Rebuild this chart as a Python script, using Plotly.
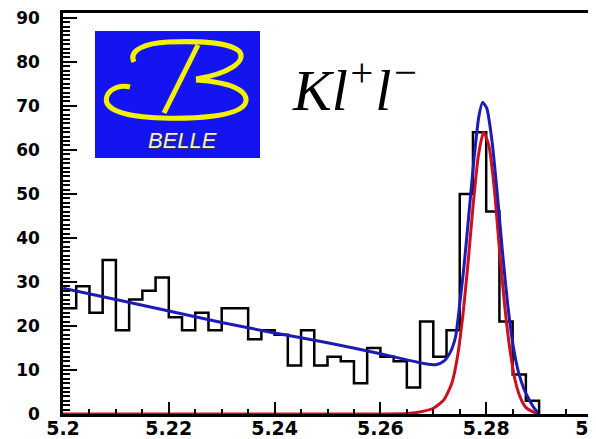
import numpy as np
import plotly.graph_objects as go

# ---------------- data ----------------
hist_start = 5.2
hist_bin_width = 0.0025
counts = [24, 29, 23, 35, 19, 26, 28, 31, 22, 19, 23, 19, 24, 24, 17, 19, 18, 11,
          19, 11, 13, 12, 7, 15, 13, 12, 6, 21, 13, 19, 50, 64, 46, 21, 9, 3]

# total fit (blue)
fit_x = [5.200, 5.210, 5.220, 5.230, 5.240, 5.250, 5.260, 5.265, 5.2685, 5.2705,
         5.2720, 5.2732, 5.2742, 5.2750, 5.2758, 5.2767, 5.2777, 5.2786, 5.2793,
         5.2801, 5.2811, 5.2821, 5.2831, 5.2841, 5.2851, 5.2861, 5.2871, 5.2881,
         5.2891, 5.2900]
fit_y = [28.6, 26.0, 23.4, 20.8, 18.4, 16.2, 13.7, 12.3, 11.4, 11.2,
         12.0, 14.0, 17.5, 25.0, 33.5, 45.0, 58.0, 67.5, 70.8,
         69.5, 62.0, 50.0, 36.5, 24.5, 15.5, 9.5, 5.8, 3.3,
         1.3, 0.0]

# signal component (red)
sig_x = [5.200, 5.260, 5.265, 5.268, 5.270, 5.272, 5.2735, 5.2745, 5.2755, 5.2765,
         5.2775, 5.2785, 5.2795, 5.2805, 5.2815, 5.2825, 5.2835, 5.2845, 5.2855,
         5.2865, 5.2875, 5.2890, 5.2900]
sig_y = [0.0, 0.0, 0.1, 0.6, 1.3, 3.2, 7.0, 12.5, 21.5, 33.5,
         47.0, 58.5, 64.0, 61.0, 51.5, 37.5, 24.5, 14.5, 7.5,
         3.6, 1.5, 0.4, 0.0]

x_tick_vals = [5.20, 5.22, 5.24, 5.26, 5.28, 5.30]
x_tick_text = ["5.2", "5.22", "5.24", "5.26", "5.28", "5.3"]
y_tick_vals = [0, 10, 20, 30, 40, 50, 60, 70, 80, 90]
y_tick_text = ["0", "10", "20", "30", "40", "50", "60", "70", "80", "90"]

# ---------------- figure ----------------
edges = np.round(hist_start + hist_bin_width * np.arange(len(counts) + 1), 5)
step_x = list(edges) + [edges[-1]]
step_y = counts + [counts[-1], 0]

fig = go.Figure()
fig.add_trace(go.Scatter(x=step_x, y=step_y, mode="lines", line_shape="hv",
                         line=dict(color="black", width=2.5), hoverinfo="skip"))
fig.add_trace(go.Scatter(x=sig_x, y=sig_y, mode="lines", line_shape="spline",
                         line=dict(color="#cc1020", width=3, smoothing=0.6)))
fig.add_trace(go.Scatter(x=fit_x, y=fit_y, mode="lines", line_shape="spline",
                         line=dict(color="#1c1cb4", width=3, smoothing=0.6)))

# page body has an 8px default margin: figure is shrunk so plot area lands
# at reference pixels (63..592, 13..414) in the 596x439 window
OFF = 8
L, R, T, B = 63, 592, 13, 414
W, H = R - L, B - T
FIG_W, FIG_H = 596 - OFF, 439 - OFF


def px(x):
    return (x - L) / W


def py(y):
    return (B - y) / H


def path(cmds):
    out = []
    for c in cmds:
        if isinstance(c, str):
            out.append(c)
        else:
            out.append("%.5f,%.5f" % (px(c[0]), py(c[1])))
    return " ".join(out)


yellow = "#f2f200"
shapes = [
    dict(type="rect", xref="paper", yref="paper", x0=px(95), x1=px(260), y0=py(158), y1=py(31),
         fillcolor="#1414f0", line=dict(width=0), layer="above"),
    dict(type="path", xref="paper", yref="paper", layer="above",
         line=dict(color=yellow, width=5),
         path=path(["M", (134, 62), "C", (128, 50), (146, 43), (168, 42),
                    "C", (195, 41), (228, 41), (239, 51),
                    "C", (248, 61), (228, 74), (196, 79)])),
    dict(type="path", xref="paper", yref="paper", layer="above",
         line=dict(color=yellow, width=5),
         path=path(["M", (196, 80), "C", (232, 82), (251, 92), (245, 104),
                    "C", (237, 117), (192, 119), (162, 118),
                    "C", (126, 117), (102, 110), (107, 96),
                    "C", (111, 87), (122, 85), (130, 87)])),
    dict(type="path", xref="paper", yref="paper", layer="above",
         line=dict(color=yellow, width=5),
         path=path(["M", (198, 45), "L", (164, 113)])),
]

annotations = [
    dict(xref="paper", yref="paper", x=px(182), y=py(140), text="<i>BELLE</i>",
         showarrow=False, xanchor="center", yanchor="middle",
         font=dict(family="Liberation Sans", size=22, color="#f4f4c8",
                   shadow="1px 1px 1px #333")),
    dict(xref="paper", yref="paper", x=px(290), y=py(86),
         text="<i>Kl<sup>+</sup>l<sup>\u2212</sup></i>",
         showarrow=False, xanchor="left", yanchor="middle",
         font=dict(family="Liberation Serif", size=58, color="black")),
]

fig.update_layout(
    template="none",
    width=FIG_W, height=FIG_H,
    margin=dict(l=L - OFF, r=596 - R, t=T - OFF, b=439 - B, pad=0),
    plot_bgcolor="white", paper_bgcolor="white",
    showlegend=False,
    shapes=shapes,
    annotations=annotations,
)
fig.update_xaxes(
    range=[5.2, 5.3], tickmode="array", tickvals=x_tick_vals, ticktext=x_tick_text,
    ticks="inside", ticklen=12, tickwidth=2, tickcolor="black",
    showline=True, linecolor="black", linewidth=2.5, mirror=True,
    showgrid=False, zeroline=False, automargin=False,
    minor=dict(ticks="inside", ticklen=5, tickwidth=2, tickcolor="black",
               tick0=5.2, dtick=0.005, showgrid=False),
    tickfont=dict(family="DejaVu Sans", size=19, color="black", weight="bold"),
    ticklabelstandoff=-5, ticklabeloverflow="allow",
)
fig.update_yaxes(
    range=[0, 91.1], tickmode="array", tickvals=y_tick_vals, ticktext=y_tick_text,
    ticks="inside", ticklen=14, tickwidth=2, tickcolor="black",
    showline=True, linecolor="black", linewidth=2.5, mirror=True,
    showgrid=False, zeroline=False, automargin=False,
    minor=dict(ticks="inside", ticklen=7, tickwidth=1.5, tickcolor="black",
               tick0=0, dtick=1, showgrid=False),
    tickfont=dict(family="DejaVu Sans", size=17, color="black", weight="bold"),
    ticklabelstandoff=17, ticklabeloverflow="allow",
)

fig.write_html("out.html")
